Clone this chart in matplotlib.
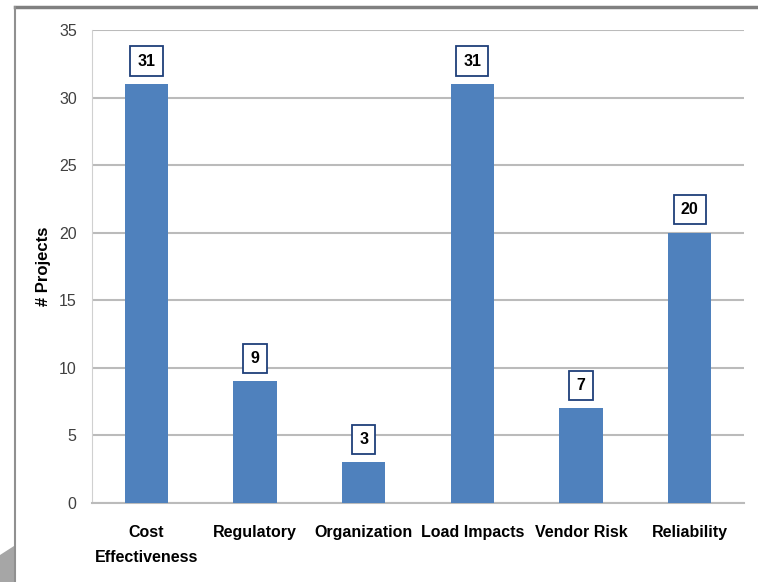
import matplotlib.pyplot as plt
from matplotlib.lines import Line2D
from matplotlib.patches import Polygon

categories = ["Cost\nEffectiveness", "Regulatory", "Organization", "Load Impacts", "Vendor Risk", "Reliability"]
projects = [31, 9, 3, 31, 7, 20]

plt.rcParams['font.family'] = ['Liberation Sans Narrow', 'Liberation Sans', 'DejaVu Sans']

fig = plt.figure(figsize=(7.58, 5.82), dpi=100)
ax = fig.add_axes([0.1214, 0.1357, 0.860, 0.8128])

x = range(len(categories))
ax.bar(x, projects, width=0.4, color="#4F81BD", zorder=3)

for i, v in zip(x, projects):
    ax.annotate(str(v), (i, v), xytext=(0, 16.5), textcoords="offset points",
                ha="center", va="center", fontsize=11.5, fontweight="bold",
                bbox=dict(boxstyle="square,pad=0.45", fc="white", ec="#1F3F7A", lw=1.3))

ax.set_ylim(0, 35)
ax.set_xlim(-0.5, len(categories) - 0.5)
ax.set_yticks(range(0, 36, 5))
ax.set_xticks(list(x))
ax.set_xticklabels(categories, fontsize=11.5, fontweight="bold", linespacing=1.85)
ax.tick_params(axis="y", length=0, labelsize=11.5, labelcolor="#404040", pad=11)
ax.tick_params(axis="x", length=0, pad=16)
ax.yaxis.grid(True, color="#BBBBBB", lw=1.5, zorder=0)
for s in ["top", "right"]:
    ax.spines[s].set_visible(False)
ax.spines["left"].set_color("#D0D0D0")
ax.spines["bottom"].set_color("#BBBBBB")
ax.spines["bottom"].set_linewidth(1.5)
ax.set_ylabel("# Projects", fontsize=12, fontweight="bold", labelpad=6)

# frame of the original slide
fig.add_artist(Line2D([15 / 758, 1], [1 - 7 / 582, 1 - 7 / 582], color="#808080", lw=2.5, transform=fig.transFigure))
fig.add_artist(Line2D([15 / 758, 15 / 758], [0, 1 - 7 / 582], color="#909090", lw=1.5, transform=fig.transFigure))
fig.add_artist(Polygon([[0, 1 - 555 / 582], [14 / 758, 1 - 546 / 582], [14 / 758, 0], [0, 0]],
                       closed=True, fc="#A6A6A6", ec="none", transform=fig.transFigure))

fig.savefig("out.png", dpi=100)
